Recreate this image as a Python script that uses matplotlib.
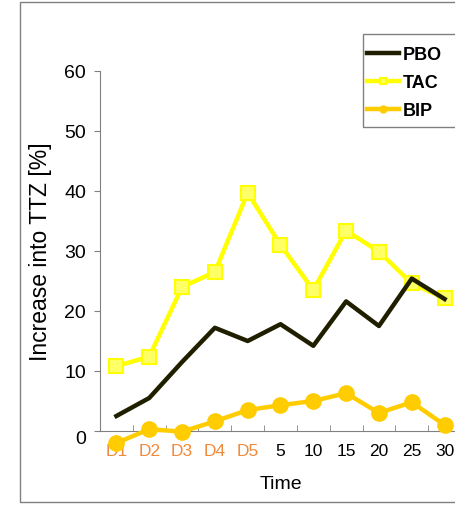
import matplotlib
matplotlib.use('Agg')
import numpy as np
from matplotlib import pyplot as plt
from matplotlib.patches import Rectangle
from matplotlib.transforms import ScaledTranslation

plt.rcParams['font.family'] = ['Liberation Sans', 'DejaVu Sans']

times = ['D1', 'D2', 'D3', 'D4', 'D5', '5', '10', '15', '20', '25', '30']
pbo = [2.5, 5.5, 11.5, 17.2, 15.0, 17.8, 14.2, 21.6, 17.5, 25.4, 22.0]
tac = [10.8, 12.4, 24.0, 26.5, 39.7, 31.0, 23.5, 33.4, 29.9, 24.6, 22.1]
bip = [-2.0, 0.3, -0.1, 1.6, 3.5, 4.3, 5.0, 6.3, 3.0, 4.8, 1.0]

W, H = 456, 506
fig = plt.figure(figsize=(W / 100, H / 100), dpi=100)
# outer chart frame (runs off the right edge)
fig.patches.append(Rectangle((20 / W, 3 / H), 1.0, 500 / H,
                             transform=fig.transFigure, fill=False,
                             edgecolor='#808080', lw=1.0))

ax = fig.add_axes([100 / W, 74 / H, 361 / W, 360 / H])
x = np.arange(len(times))

ax.plot(x, pbo, color='#1f1f00', lw=3.2, label='PBO', clip_on=False, zorder=3)
ax.plot(x, tac, color='#ffff00', lw=3.2, marker='s', markersize=10,
        markerfacecolor='#ffff66', markeredgecolor='#ffff00', markeredgewidth=1.5,
        label='TAC', clip_on=False, zorder=2)
ax.plot(x, bip, color='#ffcc00', lw=3.2, marker='o', markersize=11,
        label='BIP', clip_on=False, zorder=4)

ax.set_xlim(-0.5, len(times) - 0.5)
ax.set_ylim(0, 60)
ax.set_yticks(np.arange(0, 61, 10))
ax.set_xticks(x)
ax.set_xticklabels(times, fontsize=12.5)
ax.set_xticks(np.arange(0.5, len(times) - 1, 1), minor=True)
ax.tick_params(axis='x', which='major', length=0, pad=9)
ax.tick_params(axis='x', which='minor', direction='in', length=4, color='#808080')
ax.tick_params(axis='y', direction='out', length=4, color='#808080',
               labelsize=14, pad=6)
for lbl in ax.get_xticklabels()[:5]:
    lbl.set_color('#f08a3c')
zero = ax.get_yticklabels()[0]
zero.set_transform(zero.get_transform() + ScaledTranslation(0, -4 / 72, fig.dpi_scale_trans))

for s in ['top', 'right']:
    ax.spines[s].set_visible(False)
for s in ['left', 'bottom']:
    ax.spines[s].set_color('#808080')

ax.set_ylabel('Increase into TTZ [%]', fontsize=16.5, labelpad=9)
ax.set_xlabel('Time', fontsize=14, labelpad=12)

leg = fig.legend(loc='upper left', bbox_to_anchor=(367 / W, 1 - 47 / H),
                 frameon=False, borderaxespad=0, borderpad=0,
                 prop={'weight': 'bold', 'size': 13}, handlelength=1.75,
                 handletextpad=0.25, labelspacing=0.62)
for h in leg.legend_handles:
    h.set_markersize(5)
fig.patches.append(Rectangle((363 / W, 1 - 128 / H), 0.3, 93 / H,
                             transform=fig.transFigure, fill=False,
                             edgecolor='#808080', lw=1.0))

fig.savefig('out.png', dpi=100)
